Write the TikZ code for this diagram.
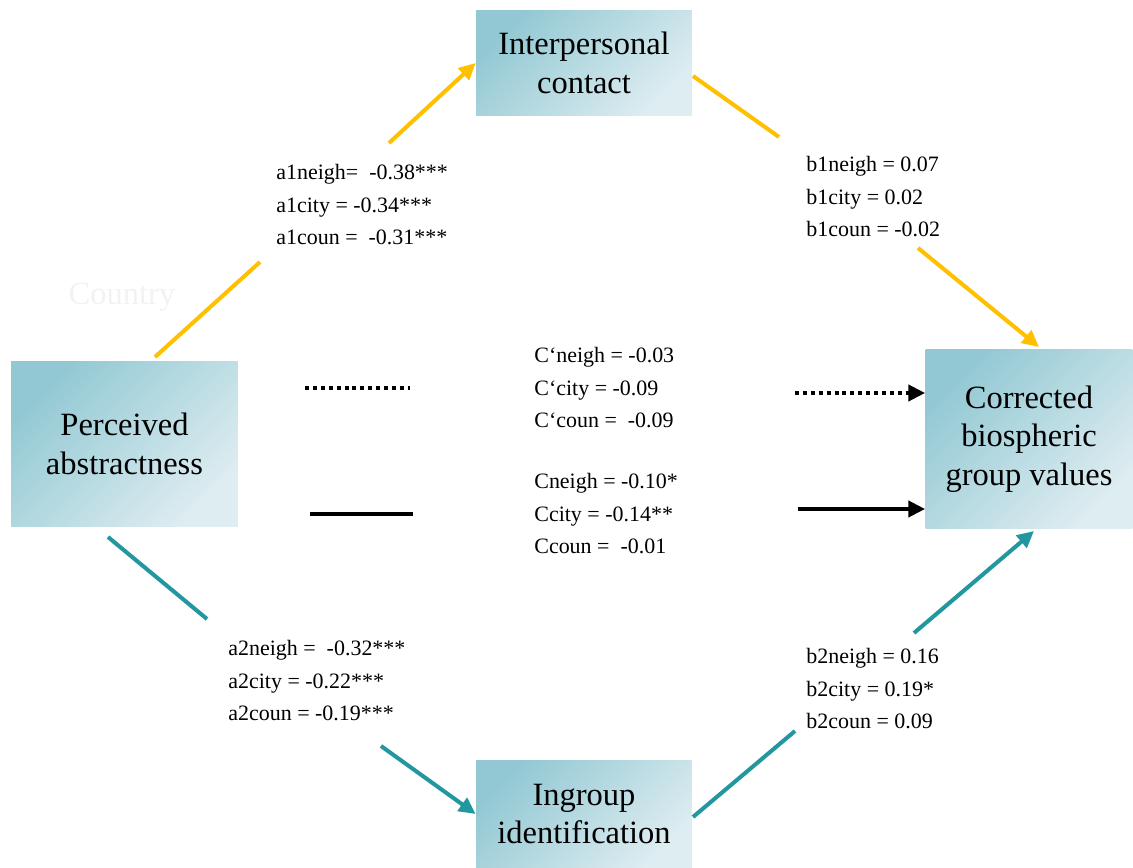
\documentclass[tikz,border=0pt]{standalone}
\usepackage{fontspec}
\setmainfont{Liberation Serif}
\usepackage{tikz}
\usetikzlibrary{arrows.meta, positioning, calc}
\definecolor{boxdark}{RGB}{146,200,211}
\definecolor{boxlight}{RGB}{222,237,241}
\definecolor{pathyellow}{RGB}{255,192,0}
\definecolor{pathteal}{RGB}{35,151,160}

\begin{document}
\begin{tikzpicture}[x=0.02cm, y=-0.02cm,
    varbox/.style={top color=boxdark, bottom color=boxlight, shading angle=45,
        align=center, inner sep=0pt, font=\fontsize{18.5}{22}\selectfont},
    coef/.style={anchor=west, align=left, inner sep=0pt, font=\fontsize{12.5}{18.5}\selectfont},
    yline/.style={pathyellow, line width=2.3pt},
    tline/.style={pathteal, line width=2.3pt},
    kline/.style={black, line width=2.3pt},
    dotline/.style={black, line width=2.3pt, dash pattern=on 2.3pt off 2.2pt},
    headed/.style={-{Triangle[length=9.5pt, width=9pt]}}]
    \useasboundingbox (0,0) rectangle (1133,868);

    % Variables
    \node[varbox, minimum width=4.54cm, minimum height=3.32cm] (pa) at (124.5,444) {Perceived\\abstractness};
    \node[varbox, minimum width=4.32cm, minimum height=2.12cm] (ic) at (584,63) {Interpersonal\\contact};
    \node[varbox, minimum width=4.14cm, minimum height=3.6cm] (cbv) at (1029,439) {Corrected\\biospheric\\group values};
    \node[varbox, minimum width=4.32cm, minimum height=2.16cm] (ig) at (584,814) {Ingroup\\identification};

    \node[font=\fontsize{18.5}{22}\selectfont, text=black!5] (ctry) at (122,297) {Country};

    % Coefficients
    \node[coef] (a1lab) at (276,205) {a1neigh=~ -0.38***\\a1city = -0.34***\\a1coun =~ -0.31***};
    \node[coef] (b1lab) at (806,197) {b1neigh = 0.07\\b1city = 0.02\\b1coun = -0.02};
    \node[coef] (cplab) at (534,388) {C‘neigh = -0.03\\C‘city = -0.09\\C‘coun =~ -0.09};
    \node[coef] (clab) at (534,514) {Cneigh = -0.10*\\Ccity = -0.14**\\Ccoun =~ -0.01};
    \node[coef] (a2lab) at (228,681) {a2neigh =~ -0.32***\\a2city = -0.22***\\a2coun = -0.19***};
    \node[coef] (b2lab) at (806,689) {b2neigh = 0.16\\b2city = 0.19*\\b2coun = 0.09};

    % Path ends
    \coordinate (a1lo) at (155,357);
    \coordinate (a1hi) at (260,262);
    \coordinate (a1tail) at (389,143);
    \coordinate (b1hi) at (693,76);
    \coordinate (b1lo) at (779,137);
    \coordinate (b1tail) at (918,248);
    \coordinate (b1tip) at (1039,347);
    \coordinate (dotL) at (305,388);
    \coordinate (dotM) at (410,388);
    \coordinate (dotR) at (795,393);
    \coordinate (solL) at (310,514);
    \coordinate (solM) at (413,514);
    \coordinate (solR) at (798,509);
    \coordinate (a2hi) at (108,537);
    \coordinate (a2lo) at (207,619);
    \coordinate (a2tail) at (381,746);
    \coordinate (b2lo) at (693,817);
    \coordinate (b2hi) at (795,731);
    \coordinate (b2tail) at (914,633);
    \coordinate (b2tip) at (1034,531);

    % Mediator 1
    \draw[yline] (a1lo) -- (a1hi);
    \draw[yline, headed] (a1tail) -- (ic.west);
    \draw[yline] (b1hi) -- (b1lo);
    \draw[yline, headed] (b1tail) -- (b1tip);

    % Direct effects
    \draw[dotline] (dotL) -- (dotM);
    \draw[dotline, headed] (dotR) -- (cbv.west |- dotR);
    \draw[kline] (solL) -- (solM);
    \draw[kline, headed] (solR) -- (cbv.west |- solR);

    % Mediator 2
    \draw[tline] (a2hi) -- (a2lo);
    \draw[tline, headed] (a2tail) -- (ig.west);
    \draw[tline] (b2lo) -- (b2hi);
    \draw[tline, headed] (b2tail) -- (b2tip);
\end{tikzpicture}
\end{document}
